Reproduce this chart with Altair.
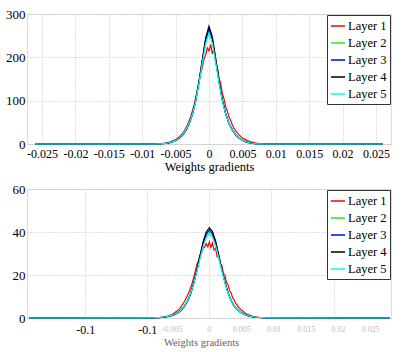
import altair as alt
import pandas as pd

LAYERS = ["Layer 1", "Layer 2", "Layer 3", "Layer 4", "Layer 5"]
COLORS = ["#ff0000", "#22ee22", "#0000ff", "#000000", "#00ffff"]

# ---------------- top panel data ----------------
top_x = [-0.026, -0.008, -0.0075, -0.007, -0.0065, -0.006, -0.0055, -0.005, -0.0045, -0.004,
         -0.0035, -0.003, -0.0025, -0.002, -0.0015, -0.001, -0.0005, 0.0, 0.0005, 0.001,
         0.0015, 0.002, 0.0025, 0.003, 0.0035, 0.004, 0.0045, 0.005, 0.0055, 0.006,
         0.0065, 0.007, 0.0075, 0.008, 0.026]
top_l2 = [0, 0.2, 0.4, 0.8, 1.6, 2.8, 4.8, 8.2, 13, 20.5, 31, 46.5, 68, 99, 142, 190, 237, 262,
          239, 192, 144, 100, 70, 47.5, 32, 21, 13.5, 8.6, 5.1, 3, 1.7, 0.9, 0.4, 0.2, 0]
top_l3 = [0, 0.2, 0.4, 0.8, 1.5, 2.7, 4.7, 8, 13, 20, 31, 46, 68, 99, 143, 192, 240, 266,
          242, 194, 145, 101, 70, 47, 32, 21, 13.5, 8.5, 5, 2.9, 1.6, 0.9, 0.4, 0.2, 0]
top_l4 = [0, 0.2, 0.4, 0.8, 1.5, 2.7, 4.6, 8, 13, 20, 31, 46, 68, 100, 145, 195, 245, 272,
          247, 197, 147, 102, 70, 47, 32, 21, 13.5, 8.5, 5, 2.9, 1.6, 0.9, 0.4, 0.2, 0]
top_l5 = [0, 0.2, 0.4, 0.9, 1.6, 2.9, 5, 8.5, 13.5, 21, 32, 47, 68, 98, 140, 186, 231, 255,
          233, 188, 141, 99, 69, 47, 32, 21, 13.5, 8.6, 5.1, 3, 1.7, 0.9, 0.4, 0.2, 0]

top_red_x = [-0.026, -0.008, -0.007, -0.006, -0.005, -0.0045,
             -0.004, -0.00375, -0.0035, -0.00325, -0.003, -0.00275, -0.0025, -0.00225,
             -0.002, -0.00175, -0.0015, -0.00125, -0.001, -0.00075, -0.0005, -0.00025,
             0.0, 0.00025, 0.0005, 0.00075, 0.001, 0.00125, 0.0015, 0.00175, 0.002,
             0.00225, 0.0025, 0.00275, 0.003, 0.00325, 0.0035, 0.00375, 0.004,
             0.0045, 0.005, 0.006, 0.007, 0.008, 0.026]
top_l1 = [0, 0.3, 1.2, 3.8, 10, 16,
          24, 29, 36, 43, 53, 63, 76, 89,
          106, 124, 141, 162, 176, 196, 205, 222,
          215, 230, 208, 220, 186, 178, 152, 140, 116,
          104, 86, 76, 62, 54, 44, 36, 30,
          21, 14, 6, 2, 0.6, 0]

# ---------------- bottom panel data ----------------
bot_x = [-0.145, -0.05, -0.0475, -0.045, -0.0425, -0.04, -0.0375, -0.035, -0.0325, -0.03,
         -0.0275, -0.025, -0.0225, -0.02, -0.0175, -0.015, -0.0125, -0.01, -0.0075, -0.005,
         -0.0025, 0.0, 0.0025, 0.005, 0.0075, 0.01, 0.0125, 0.015, 0.0175, 0.02,
         0.0225, 0.025, 0.0275, 0.03, 0.0325, 0.035, 0.0375, 0.04, 0.0425, 0.045,
         0.0475, 0.05, 0.145]
bot_l2 = [0, 0.02, 0.04, 0.08, 0.14, 0.23, 0.36, 0.56, 0.82, 1.22, 1.82, 2.65, 3.85, 5.6, 8.1,
          11.6, 16.4, 22.1, 28.2, 34.1, 38.2, 40, 38.4, 34.4, 28.5, 22.4, 16.6, 11.8, 8.2,
          5.7, 3.95, 2.7, 1.86, 1.26, 0.83, 0.56, 0.36, 0.23, 0.14, 0.08, 0.04, 0.02, 0]
bot_l3 = [0, 0.02, 0.04, 0.08, 0.14, 0.22, 0.35, 0.55, 0.8, 1.2, 1.8, 2.6, 3.8, 5.5, 8,
          11.5, 16.4, 22.3, 28.6, 34.8, 39.1, 41, 39.3, 35.1, 28.9, 22.6, 16.7, 11.8, 8.2,
          5.6, 3.9, 2.7, 1.85, 1.25, 0.82, 0.56, 0.36, 0.23, 0.14, 0.08, 0.04, 0.02, 0]
bot_l4 = [0, 0.02, 0.04, 0.08, 0.14, 0.22, 0.35, 0.55, 0.8, 1.2, 1.8, 2.6, 3.8, 5.5, 8,
          11.5, 16.5, 22.5, 29, 35.5, 40, 42, 40.2, 35.8, 29.3, 22.8, 16.8, 11.8, 8.2,
          5.6, 3.9, 2.7, 1.85, 1.25, 0.82, 0.56, 0.36, 0.23, 0.14, 0.08, 0.04, 0.02, 0]
bot_l5 = [0, 0.02, 0.04, 0.08, 0.15, 0.24, 0.37, 0.58, 0.85, 1.26, 1.88, 2.72, 3.95, 5.7, 8.2,
          11.6, 16.2, 21.7, 27.6, 33.3, 37.3, 39, 37.5, 33.6, 27.9, 22, 16.4, 11.7, 8.2,
          5.7, 3.95, 2.72, 1.88, 1.27, 0.84, 0.57, 0.37, 0.24, 0.15, 0.08, 0.04, 0.02, 0]

bot_red_x = [-0.145, -0.05, -0.045, -0.04, -0.035, -0.03,
             -0.025, -0.02375, -0.0225, -0.02125, -0.02, -0.01875, -0.0175, -0.01625,
             -0.015, -0.01375, -0.0125, -0.01125, -0.01, -0.00875, -0.0075, -0.00625,
             -0.005, -0.00375, -0.0025, -0.00125, 0.0, 0.00125, 0.0025, 0.00375, 0.005,
             0.00625, 0.0075, 0.00875, 0.01, 0.01125, 0.0125, 0.01375, 0.015, 0.01625,
             0.0175, 0.01875, 0.02, 0.02125, 0.0225, 0.02375, 0.025,
             0.03, 0.035, 0.04, 0.045, 0.05, 0.145]
bot_l1 = [0, 0.04, 0.1, 0.3, 0.7, 1.6,
          3.7, 4.5, 5.5, 6.6, 7.8, 9.2, 10.6, 12.3,
          14.2, 16.4, 19, 22, 25, 26.8, 29.5, 30.2,
          32.5, 33, 34.6, 33.1, 35.4, 32.8, 34.9, 31.6, 32.4,
          28.5, 28.9, 25.1, 24.6, 20.8, 19.9, 16.6, 15.5, 12.7,
          11.6, 9.4, 8.3, 6.8, 5.9, 4.8, 4.1,
          1.8, 0.8, 0.3, 0.1, 0.04, 0]

# ghost tick labels visible under the bottom axis
ghost_x = [-0.03, 0.0, 0.026, 0.052, 0.078, 0.104, 0.13]
ghost_text = ["-0.005", "0", "0.005", "0.01", "0.015", "0.02", "0.025"]

top_ticks = [-0.025, -0.02, -0.015, -0.01, -0.005, 0.0, 0.005, 0.01, 0.015, 0.02, 0.025]
bot_ticks = [-0.1, -0.05, 0.0, 0.05, 0.1]


def long_df(xs_main, series_main, xs_red, red_vals):
    rows = []
    for x, v in zip(xs_red, red_vals):
        rows.append({"x": x, "y": v, "layer": "Layer 1"})
    for name, vals in zip(LAYERS[1:], series_main):
        for x, v in zip(xs_main, vals):
            rows.append({"x": x, "y": v, "layer": name})
    return pd.DataFrame(rows)


top_df = long_df(top_x, [top_l2, top_l3, top_l4, top_l5], top_red_x, top_l1)
bot_df = long_df(bot_x, [bot_l2, bot_l3, bot_l4, bot_l5], bot_red_x, bot_l1)
ghost_df = pd.DataFrame({"x": ghost_x, "t": ghost_text})

FONT = "Liberation Serif, DejaVu Serif, serif"

legend = alt.Legend(
    orient="top-right", offset=1, strokeColor="#333333", fillColor="white",
    padding=3, rowPadding=2, symbolType="stroke", symbolSize=196,
    symbolStrokeWidth=1.5, labelFont=FONT, labelFontSize=12.5, labelColor="black",
    labelOffset=2, cornerRadius=0,
)
color = alt.Color("layer:N", title=None,
                  scale=alt.Scale(domain=LAYERS, range=COLORS), legend=legend)

grid_kw = dict(grid=True, gridColor="#c0c0c0", gridDash=[1, 2], gridWidth=1,
               domain=False, ticks=False, labelFont=FONT, labelColor="black")

top = alt.Chart(top_df).mark_line(strokeWidth=1.2).encode(
    x=alt.X("x:Q", scale=alt.Scale(domain=[-0.02725, 0.02725], nice=False, zero=False),
            axis=alt.Axis(values=top_ticks, labelExpr="'' + datum.value", labelFontSize=12,
                          labelPadding=4, title="Weights gradients", titleFont=FONT,
                          titleFontSize=12.5, titleFontWeight="normal", titlePadding=1,
                          titleColor="black", **grid_kw)),
    y=alt.Y("y:Q", scale=alt.Scale(domain=[0, 300], nice=False),
            axis=alt.Axis(values=[0, 100, 200, 300], labelFontSize=13, labelPadding=2,
                          title=None, **grid_kw)),
    color=color,
).properties(width=364, height=130)

bot_lines = alt.Chart(bot_df).mark_line(strokeWidth=1.2).encode(
    x=alt.X("x:Q", scale=alt.Scale(domain=[-0.1468, 0.1462], nice=False, zero=False),
            axis=alt.Axis(values=bot_ticks,
                          labelExpr="datum.value <= -0.04 ? '-0.1' : ''",
                          labelFontSize=12, labelPadding=6,
                          title="Weights gradients", titleFont=FONT, titleFontSize=10.5,
                          titleFontWeight="normal", titlePadding=2, titleColor="#666666",
                          titleX=174, titleAlign="center", **grid_kw)),
    y=alt.Y("y:Q", scale=alt.Scale(domain=[0, 60], nice=False),
            axis=alt.Axis(values=[0, 20, 40, 60], labelFontSize=13, labelPadding=2,
                          title=None, **grid_kw)),
    color=color,
)
bot_ghost = alt.Chart(ghost_df).mark_text(
    font=FONT, fontSize=8, color="#bbbbbb", baseline="middle", align="center"
).encode(x="x:Q", y=alt.value(141), text="t:N")

bottom = alt.layer(bot_lines, bot_ghost).properties(width=364, height=129)

chart = alt.vconcat(top, bottom, spacing=45, bounds="flush").resolve_legend(
    color="independent"
).properties(
    padding={"left": 5, "top": 7, "right": 5, "bottom": 5},
).configure_view(stroke="#888888", strokeWidth=1).configure(
    background="white", font=FONT
)

chart.save("out.html", embed_options={"renderer": "svg", "actions": False})
